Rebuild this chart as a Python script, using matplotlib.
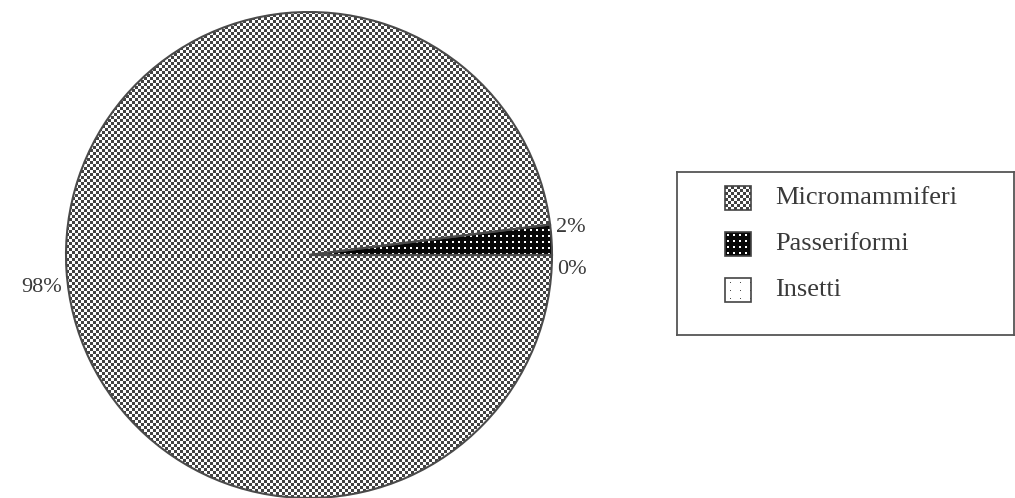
import numpy as np
import matplotlib
matplotlib.use('Agg')
import matplotlib.pyplot as plt
from matplotlib.patches import Rectangle

# data
categories = ['Micromammiferi', 'Passeriformi', 'Insetti']
values = [98, 2, 0]
pct_labels = ['%d%%' % v for v in values]

plt.rcParams['font.family'] = ['Liberation Serif', 'DejaVu Serif']


def texture(kind, h, w):
    yy, xx = np.mgrid[0:h, 0:w]
    img = np.ones((h, w, 3))
    if kind == 0:
        # grey checkerboard
        dark = ((xx / 3).astype(int) + (yy / 3).astype(int)) % 2 == 0
        img[dark] = 0.26
    elif kind == 1:
        # black with white dots
        img[:] = 0.03
        dots = (xx % 6 >= 2) & (xx % 6 < 4) & (yy % 6 >= 2) & (yy % 6 < 4)
        img[dots] = 1.0
    else:
        # white with sparse dots
        dots = (xx % 10 == 5) & (yy % 8 == 4)
        img[dots] = 0.3
    return img


fig = plt.figure(figsize=(10.15, 4.98), dpi=100)

# pie
cx, cy, r = 309, 255, 243
ax = fig.add_axes([(cx - r) / 1015, (498 - cy - r) / 498, 2 * r / 1015, 2 * r / 498])
wedges, texts = ax.pie(values, labels=pct_labels, startangle=0, counterclock=False,
                       labeldistance=1.02, radius=1,
                       wedgeprops=dict(facecolor='none', edgecolor='#4a4a4a', linewidth=1.5),
                       textprops=dict(fontsize=16, color='#3a3a3a'))
N = 2 * r
for i, w in enumerate(wedges):
    w.set_zorder(3)
    im = ax.imshow(texture(i, N, N), extent=(-1, 1, -1, 1), interpolation='none', zorder=1)
    im.set_clip_path(w)

label_nudge = [-0.07, 0.05, -0.06]
for t, dy in zip(texts, label_nudge):
    x, y = t.get_position()
    t.set_position((x, y + dy))

ax.set_xlim(-1, 1)
ax.set_ylim(-1, 1)
ax.set_aspect('auto')
ax.axis('off')

# legend box
lx0, ly0, lx1, ly1 = 677, 172, 1014, 335
lax = fig.add_axes([lx0 / 1015, (498 - ly1) / 498, (lx1 - lx0) / 1015, (ly1 - ly0) / 498])
lax.set_xticks([])
lax.set_yticks([])
for s in lax.spines.values():
    s.set_color('#555555')
    s.set_linewidth(1.3)

row_y = [26, 72, 118]
sw_x, sw_w, sw_h = 48, 26, 24
for i, (name, yc) in enumerate(zip(categories, row_y)):
    lax.imshow(texture(i, sw_h, sw_w), extent=(sw_x, sw_x + sw_w, yc + sw_h / 2, yc - sw_h / 2),
               interpolation='none', zorder=1)
    lax.add_patch(Rectangle((sw_x, yc - sw_h / 2), sw_w, sw_h, facecolor='none',
                            edgecolor='#444444', linewidth=1.2, zorder=2))
    lax.text(98, yc, name, fontsize=19, color='#3a3a3a', va='center', ha='left')
lax.set_xlim(0, lx1 - lx0)
lax.set_ylim(ly1 - ly0, 0)
lax.set_aspect('auto')

fig.savefig('out.png', dpi=100)
